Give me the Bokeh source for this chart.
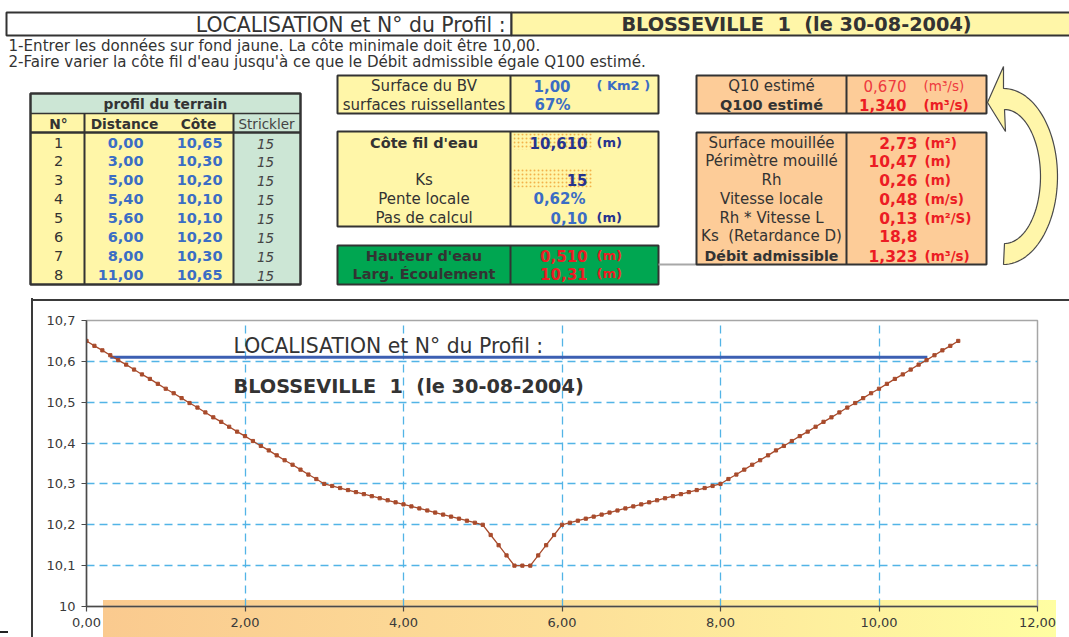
import numpy as np
from bokeh.plotting import figure
from bokeh.models import Range1d, FixedTicker, InlineStyleSheet
from bokeh.layouts import column
from bokeh.core.properties import value
from bokeh.embed import file_html
from bokeh.resources import INLINE

# ---------------- input table : profil du terrain ----------------
profil_no = [1, 2, 3, 4, 5, 6, 7, 8]
profil_distance = [0.00, 3.00, 5.00, 5.40, 5.60, 6.00, 8.00, 11.00]
profil_cote = [10.65, 10.30, 10.20, 10.10, 10.10, 10.20, 10.30, 10.65]
profil_strickler = [15, 15, 15, 15, 15, 15, 15, 15]

# ---------------- catchment ----------------
surface_bv_km2 = 1.00
part_ruisselante = 0.67
q10_estime = 0.670
q100_estime = 1.340

# ---------------- hydraulic inputs ----------------
cote_fil_eau = 10.610
ks_saisi = 15
pente_locale = 0.0062
pas_calcul = 0.10

# ---------------- hydraulic results ----------------
hauteur_eau = 0.510
larg_ecoulement = 10.31
result_labels = ["Surface mouillée", "Périmètre mouillé", "Rh", "Vitesse locale",
                 "Rh * Vitesse L", "Ks\u00a0 (Retardance D)", "Débit admissible"]
result_values = [2.73, 10.47, 0.26, 0.48, 0.13, 18.8, 1.323]
result_decimals = [2, 2, 2, 2, 2, 1, 3]
result_units = ["(m²)", "(m)", "(m)", "(m/s)", "(m²/S)", "", "(m³/s)"]

# ---------------- calculated cross-section (one point per calculation step) ----------------
calc_distance = [
    0.0, 0.1, 0.2, 0.3, 0.4, 0.5, 0.6, 0.7, 0.8, 0.9,
    1.0, 1.1, 1.2, 1.3, 1.4, 1.5, 1.6, 1.7, 1.8, 1.9,
    2.0, 2.1, 2.2, 2.3, 2.4, 2.5, 2.6, 2.7, 2.8, 2.9,
    3.0, 3.1, 3.2, 3.3, 3.4, 3.5, 3.6, 3.7, 3.8, 3.9,
    4.0, 4.1, 4.2, 4.3, 4.4, 4.5, 4.6, 4.7, 4.8, 4.9,
    5.0, 5.1, 5.2, 5.3, 5.4, 5.5, 5.6, 5.7, 5.8, 5.9,
    6.0, 6.1, 6.2, 6.3, 6.4, 6.5, 6.6, 6.7, 6.8, 6.9,
    7.0, 7.1, 7.2, 7.3, 7.4, 7.5, 7.6, 7.7, 7.8, 7.9,
    8.0, 8.1, 8.2, 8.3, 8.4, 8.5, 8.6, 8.7, 8.8, 8.9,
    9.0, 9.1, 9.2, 9.3, 9.4, 9.5, 9.6, 9.7, 9.8, 9.9,
    10.0, 10.1, 10.2, 10.3, 10.4, 10.5, 10.6, 10.7, 10.8, 10.9,
    11.0,
]
calc_cote = [
    10.650, 10.638, 10.627, 10.615, 10.603, 10.592, 10.580, 10.568, 10.557, 10.545,
    10.533, 10.522, 10.510, 10.498, 10.487, 10.475, 10.463, 10.452, 10.440, 10.428,
    10.417, 10.405, 10.393, 10.382, 10.370, 10.358, 10.347, 10.335, 10.323, 10.312,
    10.300, 10.295, 10.290, 10.285, 10.280, 10.275, 10.270, 10.265, 10.260, 10.255,
    10.250, 10.245, 10.240, 10.235, 10.230, 10.225, 10.220, 10.215, 10.210, 10.205,
    10.200, 10.175, 10.150, 10.125, 10.100, 10.100, 10.100, 10.125, 10.150, 10.175,
    10.200, 10.205, 10.210, 10.215, 10.220, 10.225, 10.230, 10.235, 10.240, 10.245,
    10.250, 10.255, 10.260, 10.265, 10.270, 10.275, 10.280, 10.285, 10.290, 10.295,
    10.300, 10.312, 10.323, 10.335, 10.347, 10.358, 10.370, 10.382, 10.393, 10.405,
    10.417, 10.428, 10.440, 10.452, 10.463, 10.475, 10.487, 10.498, 10.510, 10.522,
    10.533, 10.545, 10.557, 10.568, 10.580, 10.592, 10.603, 10.615, 10.627, 10.638,
    10.650,
]
water_start = 0.30  # left bank where the water surface begins

x_ticks = [0, 2, 4, 6, 8, 10, 12]
x_tick_labels = ["0,00", "2,00", "4,00", "6,00", "8,00", "10,00", "12,00"]
y_ticks = [10.0, 10.1, 10.2, 10.3, 10.4, 10.5, 10.6, 10.7]
y_tick_labels = ["10", "10,1", "10,2", "10,3", "10,4", "10,5", "10,6", "10,7"]

localisation_label = "LOCALISATION et N° du Profil :"
profil_name = "BLOSSEVILLE\u00a0 1\u00a0 (le 30-08-2004)"
consigne_1 = "1-Entrer les données sur fond jaune. La côte minimale doit être 10,00."
consigne_2 = "2-Faire varier la côte fil d'eau jusqu'à ce que le Débit admissible égale Q100 estimé."

# ---------------- styling ----------------
FONT = "DejaVu Sans"
INK = "#333333"
YELLOW = "#FFF6A8"
MINT = "#CCE6D5"
PEACH = "#FDCC98"
GREEN = "#00A651"
BLUE = "#3B6DC4"
NAVY = "#27348E"
RED = "#EC1C24"
RED_LIGHT = "#EE3A3F"
PROFILE_COLOR = "#A84B2C"
WATER_COLOR = "#3C5FB2"
GRID_COLOR = "#52B4E6"
LABEL_SIZE = 15

W = 1069
TOP_H = 298
BOT_H = 339


def fr(v, nd):
    return f"{v:.{nd}f}".replace(".", ",")


def pct(v, nd):
    return fr(v * 100, nd) + "%"


# =====================================================================
# Worksheet part (drawn on a pixel grid, y pointing down)
# =====================================================================
top = figure(width=W, height=TOP_H, x_range=Range1d(0, W), y_range=Range1d(TOP_H, 0),
             x_axis_location=None, y_axis_location=None, toolbar_location=None,
             output_backend="svg", min_border=0, outline_line_color=None,
             background_fill_color="white", border_fill_color="white")
top.grid.visible = False
top.frame_align = False


def box(x0, x1, y0, y1, fill, lw=2.0, line=INK):
    top.quad(left=[x0], right=[x1], top=[y0], bottom=[y1], fill_color=fill,
             line_color=line, line_width=lw)


def seg(x0, y0, x1, y1, lw=2.0, color=INK):
    top.segment(x0=[x0], y0=[y0], x1=[x1], y1=[y1], line_color=color, line_width=lw)


def txt(x, y, s, size=LABEL_SIZE, color=INK, bold=False, italic=False, align="center", fig=None):
    style = "normal"
    if bold and italic:
        style = "bold italic"
    elif bold:
        style = "bold"
    elif italic:
        style = "italic"
    (fig or top).text(x=[x], y=[y], text=[s], text_font=value(FONT),
                      text_font_size=f"{size}px", text_font_style=style,
                      text_color=color, text_align=align, text_baseline="middle")


# heading row
box(6, 511, 12, 35, "white")
box(511, 1080, 12, 35, YELLOW)
txt(505, 24, localisation_label, size=20.4, align="right")
txt(796, 24, profil_name, size=19.3, bold=True)

# instructions
txt(8, 45, consigne_1, size=15.1, align="left")
txt(8, 61, consigne_2, size=15.1, align="left")

# ---- profil du terrain table ----
box(30, 300, 93, 113, MINT, lw=0)
box(30, 233, 113, 284, YELLOW, lw=0)
box(233, 300, 113, 284, MINT, lw=0)
seg(30, 113, 300, 113, lw=1.5)
seg(30, 132, 300, 132, lw=2.5)
seg(84, 113, 84, 284, lw=2)
seg(233, 113, 233, 284, lw=2)
top.quad(left=[30], right=[300], top=[93], bottom=[284], fill_color=None,
         line_color=INK, line_width=2.5)
txt(165, 103, "profil du terrain", size=13.8, bold=True)
txt(58, 123, "N°", size=13.8, bold=True)
txt(124, 123, "Distance", size=13.8, bold=True)
txt(198, 123, "Côte", size=13.8, bold=True)
txt(266, 123, "Strickler", size=13.5, color="#444444")
for i in range(len(profil_no)):
    yy = 142 + i * 18.9
    txt(58, yy, str(profil_no[i]), size=14.5)
    txt(143, yy, fr(profil_distance[i], 2), size=14.5, color=BLUE, bold=True, align="right")
    txt(222, yy, fr(profil_cote[i], 2), size=14.5, color=BLUE, bold=True, align="right")
    txt(265, yy + 1, str(profil_strickler[i]), size=13.5, color="#444444", italic=True)

# ---- catchment box ----
box(337, 658, 75, 113, YELLOW)
seg(510, 75, 510, 113)
txt(423.5, 85, "Surface du BV")
txt(423.5, 104, "surfaces ruissellantes")
txt(570, 85, fr(surface_bv_km2, 2), size=15, color=BLUE, bold=True, align="right")
txt(596, 85, "( Km2 )", size=13, color=BLUE, bold=True, align="left")
txt(570, 104, pct(part_ruisselante, 0), size=15, color=BLUE, bold=True, align="right")

# ---- hydraulic input box ----
box(337, 658, 131, 226, YELLOW)
seg(510, 131, 510, 226)
top.quad(left=[513, 513], right=[592, 592], top=[133, 168], bottom=[149, 187],
         fill_color=YELLOW, line_color=None, hatch_pattern="dot",
         hatch_color="#F2B24A", hatch_scale=4, hatch_weight=1.2)
txt(423.5, 142, "Côte fil d'eau", bold=True, size=14.5)
txt(423.5, 179, "Ks")
txt(423.5, 198, "Pente locale")
txt(423.5, 217, "Pas de calcul")
txt(587, 142, fr(cote_fil_eau, 3), size=15, color=NAVY, bold=True, align="right")
txt(596, 142, "(m)", size=13, color=NAVY, bold=True, align="left")
txt(587, 179, str(ks_saisi), size=15, color=NAVY, bold=True, align="right")
txt(585, 198, pct(pente_locale, 2), size=15, color=BLUE, bold=True, align="right")
txt(587, 217, fr(pas_calcul, 2), size=15, color=BLUE, bold=True, align="right")
txt(596, 217, "(m)", size=13, color=NAVY, bold=True, align="left")

# ---- water depth box ----
box(337, 658, 245, 284, GREEN)
seg(510, 245, 510, 284)
txt(423.5, 255, "Hauteur d'eau", size=14.5, bold=True)
txt(423.5, 273, "Larg. Écoulement", size=14.5, bold=True)
txt(587, 255, fr(hauteur_eau, 3), size=15, color=RED, bold=True, align="right")
txt(596, 255, "(m)", size=13, color=RED, bold=True, align="left")
txt(587, 273, fr(larg_ecoulement, 2), size=15, color=RED, bold=True, align="right")
txt(596, 273, "(m)", size=13, color=RED, bold=True, align="left")

seg(658, 264, 722, 264, lw=2, color="#A8A8A8")

# ---- discharge estimate box ----
box(696, 986, 75, 113, PEACH)
seg(846, 75, 846, 113)
txt(771, 85, "Q10 estimé")
txt(771, 104, "Q100 estimé", size=14.5, bold=True)
txt(906, 85, fr(q10_estime, 3), size=15, color=RED_LIGHT, align="right")
txt(923, 85, "(m³/s)", size=13.5, color=RED_LIGHT, align="left")
txt(906, 104, fr(q100_estime, 3), size=15, color=RED, bold=True, align="right")
txt(923, 104, "(m³/s)", size=13.5, color=RED, bold=True, align="left")

# ---- results box ----
box(696, 986, 132, 264, PEACH)
seg(846, 132, 846, 264)
result_rows = [142, 160, 179, 198, 217, 235, 255]
for lab, v, nd, u, yy in zip(result_labels, result_values, result_decimals, result_units, result_rows):
    strong = lab == "Débit admissible"
    txt(771, yy, lab, size=14.2 if strong else LABEL_SIZE, bold=strong)
    txt(917, yy, fr(v, nd), size=15.5, color=RED, bold=True, align="right")
    if u:
        txt(924, yy, u, size=13.5, color=RED, bold=True, align="left")

# ---- curved arrow: result fed back to Q100 ----
t = np.linspace(-np.pi / 2, np.pi / 2, 60)
outer_x = 1003 + 54 * np.cos(t[::-1])
outer_y = 176 + 88 * np.sin(t[::-1])
inner_x = 1004 + 36 * np.cos(t)
inner_y = 176 + 67 * np.sin(t)
arrow_x = list(outer_x) + [1003, 987, 1005] + list(inner_x)
arrow_y = list(outer_y) + [66, 102, 131] + list(inner_y)
top.patch(arrow_x, arrow_y, fill_color="#FFF6AA", line_color="#4A4A4A", line_width=1.2)

# =====================================================================
# Cross-section chart
# =====================================================================
FX0, FX1 = 86, 1037      # frame left / right on the page
FY0, FY1 = 320, 606      # frame top / bottom on the page
X_MIN, X_MAX = 0, 12
Y_MIN, Y_MAX = 10.0, 10.7

# sheet cells seen through the transparent chart: border of the chart object,
# and the orange-to-yellow cells under the distance axis
sheet_css = """
:host {
  background:
    linear-gradient(#3a3a3a, #3a3a3a) 31px 0px / 2px 100% no-repeat,
    linear-gradient(#3a3a3a, #3a3a3a) 31px 0.5px / 1100px 2px no-repeat,
    linear-gradient(#222222, #222222) 0px 333px / 8px 2px no-repeat,
    linear-gradient(to right, #faca8f 0%, #fde099 50%, #fffea2 100%) 103px 302px / 953px 40px no-repeat,
    #ffffff;
}
"""

bot = figure(width=W, height=BOT_H, x_range=Range1d(X_MIN, X_MAX), y_range=Range1d(Y_MIN, Y_MAX),
             toolbar_location=None, output_backend="svg",
             min_border_left=FX0, min_border_right=W - FX1,
             min_border_top=FY0 - TOP_H, min_border_bottom=TOP_H + BOT_H - FY1,
             background_fill_color=None, border_fill_color=None,
             outline_line_color="#A6A6A6", outline_line_width=1.5)
bot.frame_align = False
bot.stylesheets = [InlineStyleSheet(css=sheet_css)]


def bx(px):
    return X_MIN + (px - FX0) / (FX1 - FX0) * (X_MAX - X_MIN)


def by(py):
    return Y_MIN + (FY1 - py) / (FY1 - FY0) * (Y_MAX - Y_MIN)


# grid
bot.xgrid.ticker = FixedTicker(ticks=x_ticks)
bot.ygrid.ticker = FixedTicker(ticks=y_ticks)
for g in (bot.xgrid[0], bot.ygrid[0]):
    g.grid_line_color = GRID_COLOR
    g.grid_line_dash = "8 5"
    g.grid_line_width = 1.3

# axes
bot.xaxis.ticker = FixedTicker(ticks=x_ticks)
bot.yaxis.ticker = FixedTicker(ticks=y_ticks)
bot.xaxis.major_label_overrides = dict(zip(x_ticks, x_tick_labels))
bot.yaxis.major_label_overrides = dict(zip(y_ticks, y_tick_labels))
for ax in (bot.xaxis[0], bot.yaxis[0]):
    ax.axis_line_color = "#4A4A4A"
    ax.axis_line_width = 1.5
    ax.major_tick_line_color = "#4A4A4A"
    ax.major_tick_line_width = 1.2
    ax.major_tick_out = 5
    ax.major_tick_in = 0
    ax.minor_tick_line_color = None
    ax.major_label_text_font = FONT
    ax.major_label_text_font_size = "13px"
    ax.major_label_text_color = "#3A3A3A"
    ax.major_label_standoff = 6

# water surface
bot.line([water_start, water_start + larg_ecoulement], [cote_fil_eau, cote_fil_eau],
         line_color=WATER_COLOR, line_width=3.2)

# terrain profile, one marker per calculation step
bot.line(calc_distance, calc_cote, line_color=PROFILE_COLOR, line_width=1.3)
bot.scatter(calc_distance, calc_cote, marker="square", size=3.2,
            fill_color=PROFILE_COLOR, line_color=PROFILE_COLOR)

# titles repeated inside the chart
txt(bx(233), by(345), localisation_label, size=20.4, align="left", fig=bot)
txt(bx(233), by(386), profil_name, size=19.3, bold=True, align="left", fig=bot)

layout = column(top, bot, spacing=0)
open("out.html", "w").write(file_html(layout, INLINE))
